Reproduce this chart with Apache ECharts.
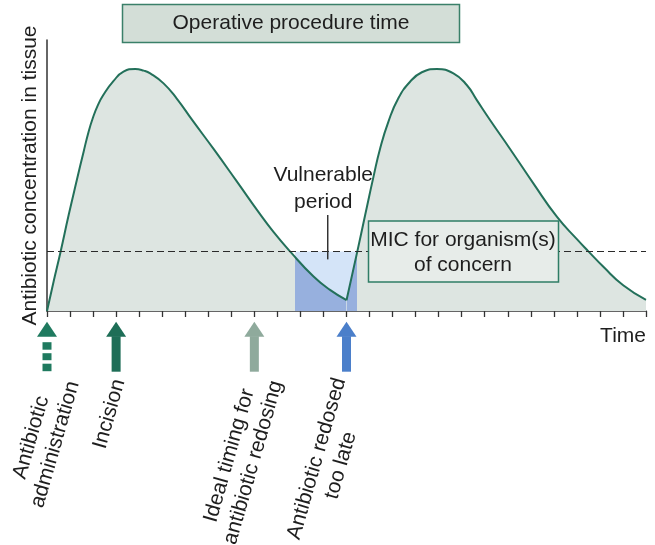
<!DOCTYPE html>
<html>
<head>
<meta charset="utf-8">
<script src="https://cdn.jsdelivr.net/npm/echarts@6/dist/echarts.min.js"></script>
<style>
    html, body { margin: 0; padding: 0; background: #fff; }
    #chart { width: 655px; height: 545px; }
</style>
</head>
<body>
<div id="chart"></div>
<script>
// tissue concentration: [time, % of axis height]
const firstDose = [
    [0, 0], [0.29, 11], [0.58, 21.5], [0.94, 35.4], [1.3, 48.5], [1.59, 58.8],
    [1.8, 66], [2.0, 71.5], [2.2, 75.8], [2.45, 79.8], [2.89, 84.9], [3.32, 88.3],
    [3.83, 89.3], [4.2, 88.7], [4.48, 87.7], [5.06, 84], [5.64, 78.3], [6.3, 70.5],
    [7.23, 59.8], [8.2, 48.3], [9.2, 36.3], [9.83, 29.2], [10.56, 21.9],
    [11.57, 12.7], [12.3, 7.7], [13, 4]
];
const secondDose = [
    [13, 4], [13.47, 22], [13.81, 35.4], [14.17, 49.5], [14.46, 60], [14.82, 69.9],
    [15.25, 78.5], [15.76, 84.6], [16.27, 88.1], [16.92, 89.3], [17.64, 87.7],
    [18.22, 83.4], [18.65, 77.9], [19.23, 70.5], [20.1, 59.8], [21.11, 47.1],
    [22.13, 34.8], [23.0, 26.5], [23.5, 22], [24.15, 16.3], [25.01, 9.5], [26, 4.1]
];
const micLevel = 22;
const vulnerableStart = 10.77;
const vulnerableEnd = 13.47;
const timeMax = 26;

const markerTimes = [0, 3, 9, 13];
const markerLabels = [
    'Antibiotic\nadministration',
    'Incision',
    'Ideal timing for\nantibiotic redosing',
    'Antibiotic redosed\ntoo late'
];
const markerDashed = [true, false, false, false];

const FONT = '"Liberation Sans", Arial, Helvetica, sans-serif';
const TEXT = '#1e1e1e';
const AREA = '#dde5e1';
const CURVE = '#23705a';
const GAP_LIGHT = '#d4e4f8';
const GAP_DARK = '#97b0de';
const markerColors = ['#1f7a5f', '#1e6e57', '#8faa9c', '#4b7fca'];

// area fill: grey, but dark blue where the dose falls inside the vulnerable window
function doseFill(data) {
    const x0 = data[0][0];
    const x1 = data[data.length - 1][0];
    const a = Math.max(0, Math.min(1, (vulnerableStart - x0) / (x1 - x0)));
    const b = Math.max(0, Math.min(1, (vulnerableEnd - x0) / (x1 - x0)));
    return {
        type: 'linear', x: 0, y: 0, x2: 1, y2: 0,
        colorStops: [
            { offset: 0, color: AREA }, { offset: a, color: AREA },
            { offset: a, color: GAP_DARK }, { offset: b, color: GAP_DARK },
            { offset: b, color: AREA }, { offset: 1, color: AREA }
        ]
    };
}

function doseSeries(name, data) {
    return {
        name: name,
        type: 'line',
        data: data,
        smooth: 0.5,
        symbol: 'none',
        silent: true,
        z: 2,
        lineStyle: { color: CURVE, width: 2 },
        areaStyle: { color: doseFill(data), opacity: 1 }
    };
}

const chart = echarts.init(document.getElementById('chart'));

const option = {
    animation: false,
    grid: { left: 47, right: 9, top: 40, bottom: 234 },
    xAxis: {
        type: 'value',
        min: 0,
        max: timeMax,
        interval: 1,
        axisLine: { lineStyle: { color: '#333', width: 1.5 } },
        axisTick: { show: true, length: 6, lineStyle: { color: '#333', width: 1.3 } },
        axisLabel: { show: false },
        splitLine: { show: false }
    },
    yAxis: {
        type: 'value',
        min: 0,
        max: 100,
        name: 'Antibiotic concentration in tissue',
        nameLocation: 'middle',
        nameRotate: 90,
        nameGap: 6,
        nameTextStyle: { fontFamily: FONT, fontSize: 21, color: TEXT },
        axisLine: { show: true, lineStyle: { color: '#333', width: 1.5 } },
        axisTick: { show: false },
        axisLabel: { show: false },
        splitLine: { show: false }
    },
    series: [
        {
            name: 'Vulnerable window',
            type: 'line',
            data: [[vulnerableStart, micLevel], [vulnerableEnd, micLevel]],
            symbol: 'none',
            silent: true,
            z: 1,
            lineStyle: { width: 0, opacity: 0 },
            areaStyle: { color: GAP_LIGHT, opacity: 1 }
        },
        doseSeries('First dose', firstDose),
        Object.assign(doseSeries('Second dose', secondDose), {
            markLine: {
                silent: true,
                symbol: 'none',
                label: { show: false },
                lineStyle: { color: '#2a2a2a', width: 1, type: [7, 4] },
                data: [{ yAxis: micLevel }]
            }
        })
    ]
};
chart.setOption(option);

// annotations: boxes, labels and arrows, placed from the axis scales
function px(x, y) {
    return chart.convertToPixel({ gridIndex: 0 }, [x, y]);
}

const graphics = [];
const textStyle = (text, extra) => Object.assign({
    text: text,
    fontFamily: FONT,
    fontSize: 21,
    fill: TEXT,
    align: 'center',
    verticalAlign: 'middle',
    lineHeight: 25
}, extra || {});

// operative procedure box
graphics.push({
    type: 'rect', z: 10,
    shape: { x: 122.5, y: 4.5, width: 337, height: 38 },
    style: { fill: '#d3ded7', stroke: '#3a8069', lineWidth: 1.5 }
});
graphics.push({ type: 'text', z: 11, x: 291, y: 23.5, style: textStyle('Operative procedure time') });

// MIC box
graphics.push({
    type: 'rect', z: 10,
    shape: { x: 368.5, y: 221, width: 190, height: 61 },
    style: { fill: '#e7ece9', stroke: '#2f7d66', lineWidth: 1.5 }
});
graphics.push({ type: 'text', z: 11, x: 463, y: 252.5, style: textStyle('MIC for organism(s)\nof concern') });

// vulnerable period label with pointer
const mid = px((vulnerableStart + vulnerableEnd) / 2, micLevel);
graphics.push({ type: 'text', z: 11, x: mid[0] - 3, y: 188.5, style: textStyle('Vulnerable\nperiod', { lineHeight: 26.5 }) });
graphics.push({
    type: 'line', z: 11,
    shape: { x1: mid[0] + 1.5, y1: 215, x2: mid[0] + 1.5, y2: mid[1] + 8 },
    style: { stroke: '#333', lineWidth: 1.5 }
});

// Time label at the end of the axis
const axisEnd = px(timeMax, 0);
graphics.push({ type: 'text', z: 11, x: axisEnd[0], y: axisEnd[1] + 25, style: textStyle('Time', { align: 'right' }) });

// arrows under the time axis
const labelOffsets = [[-3.7, 130], [-6.7, 103], [-13, 148], [-17.7, 151]];
markerTimes.forEach((t, i) => {
    const p = px(t, 0);
    const x = p[0];
    const tip = p[1] + 10.7;
    const color = markerColors[i];
    graphics.push({
        type: 'polygon', z: 11,
        shape: { points: [[x, tip], [x + 10, tip + 15], [x - 10, tip + 15]] },
        style: { fill: color }
    });
    const pieces = markerDashed[i] ? [[20.5, 28], [31.5, 38.5], [42, 49.5]] : [[14.5, 50]];
    pieces.forEach(seg => {
        graphics.push({
            type: 'rect', z: 11,
            shape: { x: x - 4.5, y: tip + seg[0], width: 9, height: seg[1] - seg[0] },
            style: { fill: color }
        });
    });
    graphics.push({
        type: 'text', z: 11,
        x: x + labelOffsets[i][0],
        y: p[1] + labelOffsets[i][1],
        rotation: 74 * Math.PI / 180,
        style: textStyle(markerLabels[i])
    });
});

chart.setOption({ graphic: graphics });
window.addEventListener('resize', () => chart.resize());
</script>
</body>
</html>
